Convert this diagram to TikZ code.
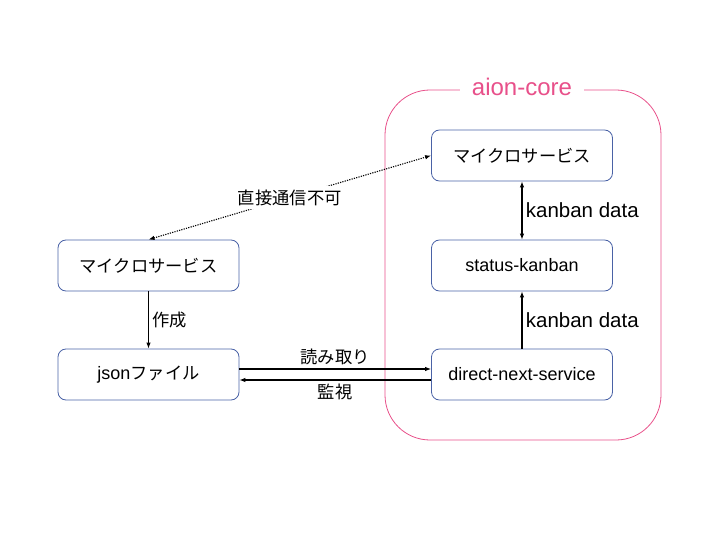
\documentclass[tikz,border=0pt]{standalone}
\usepackage{fontspec}
\setmainfont{Liberation Sans}
\newfontfamily\jp[Scale=0.96]{Noto Sans CJK JP}
\usetikzlibrary{arrows.meta}

\definecolor{boxblue}{HTML}{4A62A6}
\definecolor{corepink}{HTML}{E8508A}

\tikzset{
  box/.style={draw=boxblue, line width=0.8pt, rounded corners=8pt,
    minimum width=181pt, minimum height=51pt,
    font=\fontsize{18}{22}\selectfont},
  core/.style={draw=corepink, line width=0.8pt, rounded corners=45pt},
  link/.style={line width=1.1pt, {Latex[length=6pt,width=4.5pt]}-{Latex[length=6pt,width=4.5pt]}},
  flow/.style={line width=1.1pt, -{Latex[length=6pt,width=4.5pt]}},
  lbl/.style={font=\fontsize{18}{22}\selectfont},
  datalbl/.style={font=\fontsize{20.5}{24}\selectfont},
}

\begin{document}
\begin{tikzpicture}[x=1pt,y=-1pt]
\useasboundingbox (0,0) rectangle (720,540);

% aion-core frame
\draw[core] (385,90) rectangle (661,440);
\node[fill=white, text=corepink, inner xsep=12pt, font=\fontsize{24}{28}\selectfont] (coretitle) at (522,87) {aion-core};

% boxes
\node[box] (micro) at (148.5,265.5) {\jp マイクロサービス};
\node[box] (json) at (148.5,374.5) {json{\jp ファイル}};
\node[box] (coremicro) at (522,155.5) {\jp マイクロサービス};
\node[box] (kanban) at (522,265.5) {status-kanban};
\node[box] (dns) at (522,374.5) {direct-next-service};

% connectors
\draw[link, dash pattern=on 1.2pt off 1.2pt] (micro.north) -- (coremicro.west)
  node[midway, fill=white, lbl] (nolink) {\jp 直接通信不可};
\draw[flow] (micro) -- (json) node[midway, right, lbl] (make) {\jp 作成};
\draw[flow] ([yshift=5.5pt]json.east) -- ([yshift=5.5pt]dns.west)
  node[midway, above, lbl] (read) {\jp 読み取り};
\draw[flow] ([yshift=-5.5pt]dns.west) -- ([yshift=-5.5pt]json.east)
  node[midway, below, lbl] (watch) {\jp 監視};
\draw[link] (coremicro) -- (kanban) node[midway, right, datalbl] (data1) {kanban data};
\draw[flow] (dns) -- (kanban) node[midway, right, datalbl] (data2) {kanban data};
\end{tikzpicture}
\end{document}
